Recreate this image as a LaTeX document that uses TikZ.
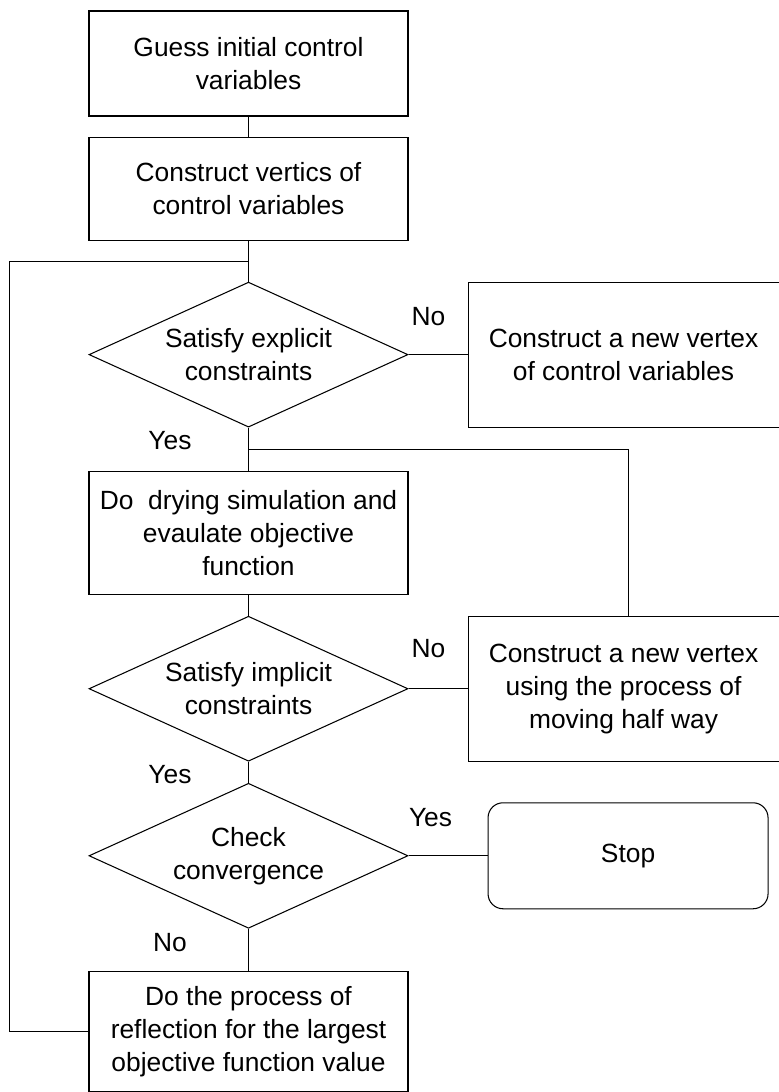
\documentclass[tikz,border=0pt]{standalone}
\usepackage{fontspec}
\setmainfont{Liberation Sans}
\usepackage{tikz}
\usetikzlibrary{shapes,arrows,positioning,calc}

\begin{document}
\begin{tikzpicture}[
    font=\fontsize{15}{18.8}\selectfont,
    line width=0.6pt,
    box/.style={rectangle, draw, minimum width=6.38cm, minimum height=2.06cm, align=center, inner sep=2pt},
    sidebox/.style={rectangle, draw, minimum width=6.22cm, minimum height=2.9cm, align=center, inner sep=2pt},
    decision/.style={diamond, draw, aspect=2.2, minimum width=6.38cm, minimum height=2.9cm, align=center, inner sep=0pt},
    stopbox/.style={rectangle, rounded corners=0.3cm, draw, minimum width=5.6cm, minimum height=2.12cm, align=center},
    lbl/.style={inner sep=0pt},
    line/.style={-}
]
    \useasboundingbox (0,0) rectangle (15.58,-21.84);

    \node[box, minimum height=2.1cm] (guess) at (4.97,-1.27) {Guess initial control\\variables};
    \node[box, below=0.40cm of guess] (vertics) {Construct vertics of\\control variables};
    \node[decision, below=0.82cm of vertics] (explicit) {Satisfy explicit\\constraints};
    \node[box, minimum height=2.46cm, below=0.86cm of explicit] (simulate) {Do\ \ drying simulation and\\evaulate objective\\function};
    \node[decision, below=0.42cm of simulate] (implicit) {Satisfy implicit\\constraints};
    \node[decision, below=0.42cm of implicit] (converge) {Check\\convergence};
    \node[box, minimum height=2.4cm, below=0.84cm of converge] (reflect) {Do the process of\\reflection for the largest\\objective function value};

    \node[sidebox, right=1.18cm of explicit] (newvertex) {Construct a new vertex\\of control variables};
    \node[sidebox, right=1.18cm of implicit] (halfway) {Construct a new vertex\\using the process of\\moving half way};
    \node[stopbox, right=1.58cm of converge] (stop) {Stop};

    \coordinate (j1) at ($(vertics.south)!0.5!(explicit.north)$);
    \coordinate (j2) at ($(explicit.south)!0.5!(simulate.north)$);

    \draw[line] (guess) -- (vertics);
    \draw[line] (vertics) -- (explicit);
    \draw[line] (explicit) -- (simulate);
    \draw[line] (simulate) -- (implicit);
    \draw[line] (implicit) -- (converge);
    \draw[line] (converge) -- (reflect);
    \draw[line] (explicit) -- (newvertex);
    \draw[line] (implicit) -- (halfway);
    \draw[line] (converge) -- (stop);
    \draw[line] (j2) -| ([xshift=0.09cm]halfway.north);
    \draw[line] (reflect.west) -- ++(-1.58,0) |- (j1);

    \node[lbl] (no1) at ([shift={(0.4,0.76)}]explicit.east) {No};
    \node[lbl] (yes1) at ([shift={(-1.57,-0.26)}]explicit.south) {Yes};
    \node[lbl] (no2) at ([shift={(0.4,0.8)}]implicit.east) {No};
    \node[lbl] (yes2) at ([shift={(-1.57,-0.26)}]implicit.south) {Yes};
    \node[lbl] (yes3) at ([shift={(0.44,0.76)}]converge.east) {Yes};
    \node[lbl] (no3) at ([shift={(-1.57,-0.28)}]converge.south) {No};
\end{tikzpicture}
\end{document}
